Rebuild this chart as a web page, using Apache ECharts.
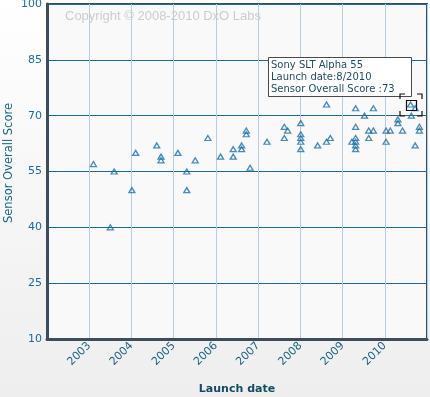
<!DOCTYPE html>
<html>
<head>
<meta charset="utf-8">
<script src="https://cdn.jsdelivr.net/npm/echarts@6/dist/echarts.min.js"></script>
<style>
html,body{margin:0;padding:0;background:#f4f4f4;}
#chart{width:430px;height:397px;}
</style>
</head>
<body>
<div id="chart"></div>
<script>
// Launch date as decimal year
const launchDate = [
  2003.10, 2003.50, 2003.59, 2004.01, 2004.10, 2004.60, 2004.70, 2004.70,
  2005.10, 2005.31, 2005.31, 2005.51, 2005.81,
  2006.11, 2006.41, 2006.41, 2006.61, 2006.61, 2006.72, 2006.72, 2006.81,
  2007.21, 2007.62, 2007.70, 2007.62,
  2008.01, 2008.01, 2008.01, 2008.01, 2008.01, 2008.41, 2008.62, 2008.71, 2008.62,
  2009.22, 2009.31, 2009.31, 2009.31, 2009.31, 2009.31, 2009.31, 2009.52, 2009.73,
  2009.62, 2009.73, 2009.62,
  2010.03, 2010.13, 2010.03, 2010.31, 2010.31, 2010.42, 2010.61, 2010.72, 2010.63,
  2010.82, 2010.82, 2010.72
];
const score = [
  57, 40, 55, 50, 60, 62, 59, 58,
  60, 55, 50, 58, 64,
  59, 61, 59, 62, 61, 66, 65, 56,
  63, 67, 66, 64,
  68, 65, 64, 63, 61, 62, 63, 64, 73,
  63, 72, 67, 64, 63, 62, 61, 70, 72,
  66, 66, 64,
  66, 66, 63, 69, 68, 66, 73, 72, 70,
  67, 66, 62
];
const yearTicks = [2003, 2004, 2005, 2006, 2007, 2008, 2009, 2010];
const highlightIndex = 52;
const highlightName = 'Sony SLT Alpha 55';
const highlightDate = '8/2010';
const yTitle = 'Sensor Overall Score';

const chart = echarts.init(document.getElementById('chart'), null, {renderer: 'canvas'});
const pts = launchDate.map((d, i) => [d, score[i]]);

const option = {
  animation: false,
  backgroundColor: new echarts.graphic.LinearGradient(0, 0, 0, 1, [
    {offset: 0, color: '#ffffff'},
    {offset: 1, color: '#eeeeee'}
  ]),
  grid: {
    left: 47, right: 3, top: 4, bottom: 58,
    outerBoundsMode: 'none', containLabel: false,
    show: true, backgroundColor: '#f9f9f9',
    borderColor: '#3d4d5b', borderWidth: 2
  },
  xAxis: {
    type: 'value', min: 2002, max: 2011, interval: 1,
    name: 'Launch date', nameLocation: 'middle', nameGap: 45,
    nameTextStyle: {fontFamily: 'DejaVu Sans', fontWeight: 'bold', fontSize: 11, color: '#0e4d64'},
    axisLine: {show: true, onZero: false, lineStyle: {color: '#3d4d5b', width: 3}},
    axisTick: {show: false},
    splitLine: {show: true, lineStyle: {color: '#b4d0e0', width: 1}},
    axisLabel: {
      rotate: 45, margin: 5,
      fontFamily: 'DejaVu Sans', fontSize: 11, color: '#1f6680',
      formatter: v => yearTicks.includes(Math.round(v)) ? String(Math.round(v)) : ''
    }
  },
  yAxis: {
    type: 'value', min: 10, max: 100, interval: 15,
    axisLine: {show: true, lineStyle: {color: '#3d4d5b', width: 3}},
    axisTick: {show: false},
    splitLine: {show: true, lineStyle: {color: '#1d6a98', width: 1}},
    axisLabel: {fontFamily: 'DejaVu Sans', fontSize: 11, color: '#1d6a98', margin: 5}
  },
  series: [{
    type: 'scatter',
    data: pts,
    symbol: 'triangle',
    symbolSize: [6, 5],
    itemStyle: {color: 'rgba(255,255,255,0)', borderColor: '#1e6fa6', borderWidth: 1.3},
    z: 5
  }]
};
chart.setOption(option);

// Annotation (tooltip + highlight) anchored to the highlighted point via the chart's scales
const p = chart.convertToPixel({seriesIndex: 0}, pts[highlightIndex]);
const px = Math.round(p[0]), py = Math.round(p[1]);
const bx = px - 143, by = py - 48;
const br = 11, arm = 5;
const corner = (cx, cy, dx, dy) => ({
  type: 'polyline',
  shape: {points: [[cx + dx * arm, cy], [cx, cy], [cx, cy + dy * arm]]},
  style: {stroke: '#111', lineWidth: 1.2, fill: null},
  z: 20
});
chart.setOption({
  graphic: [
    {
      type: 'text', left: 65, top: 10,
      style: {text: 'Copyright \u00a9 2008-2010 DxO Labs', font: '13px "Liberation Sans", Arial, sans-serif', fill: '#c9cdd2'},
      z: 1
    },
    {
      type: 'text', x: 9, y: 163, rotation: Math.PI / 2,
      style: {text: yTitle, font: '11.5px "DejaVu Sans", sans-serif', fill: '#1f6680', align: 'center', verticalAlign: 'middle'},
      z: 1
    },
    {
      type: 'rect', shape: {x: bx + 0.5, y: by + 0.5, width: 143, height: 39},
      style: {fill: '#ffffff', stroke: '#4a4a4a', lineWidth: 1}, z: 20
    },
    {
      type: 'text', x: bx + 3, y: by + 3,
      style: {
        text: highlightName + '\nLaunch date:' + highlightDate + '\nSensor Overall Score :' + score[highlightIndex],
        font: '10px "DejaVu Sans", sans-serif', fill: '#1d4e5e', lineHeight: 11.7
      },
      z: 21
    },
    {
      type: 'rect', shape: {x: px - 5 + 0.5, y: py - 5 + 0.5, width: 10, height: 10},
      style: {fill: null, stroke: '#111', lineWidth: 1.2}, z: 20
    },
    corner(px - br, py - br, 1, 1),
    corner(px + br, py - br, -1, 1),
    corner(px - br, py + br, 1, -1),
    corner(px + br, py + br, -1, -1)
  ]
});
</script>
</body>
</html>
